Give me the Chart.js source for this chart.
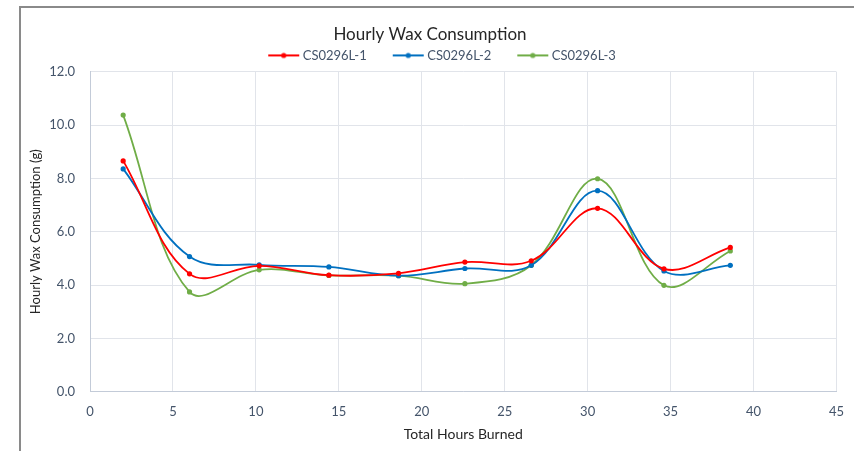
<!DOCTYPE html>
<html>
<head>
<meta charset="utf-8">
<script src="https://cdn.jsdelivr.net/npm/chart.js@4/dist/chart.umd.min.js"></script>
<style>
  html, body { margin: 0; padding: 0; background: #fff; overflow: hidden; }
  body { width: 854px; height: 451px; position: relative; }
  #frame { position: absolute; left: 19px; top: 6px; width: 1000px; height: 1000px; border: 2px solid #8a8a8a; box-sizing: border-box; }
  #wrap { position: absolute; left: 20px; top: 0px; width: 836px; height: 451px; }
</style>
</head>
<body>
<div id="frame"></div>
<div id="wrap"><canvas id="c"></canvas></div>
<script>
const hours = [2.0, 6.0, 10.2, 14.4, 18.6, 22.6, 26.6, 30.6, 34.6, 38.6];
const seriesNames = ['CS0296L-1', 'CS0296L-2', 'CS0296L-3'];
const cs1 = [8.66, 4.42, 4.72, 4.37, 4.44, 4.86, 4.91, 6.88, 4.61, 5.41];
const cs2 = [8.36, 5.07, 4.76, 4.68, 4.35, 4.62, 4.74, 7.54, 4.53, 4.74];
const cs3 = [10.38, 3.74, 4.57, 4.36, 4.35, 4.05, 4.74, 7.99, 3.99, 5.28];
const colors = ['#ff0000', '#0070c0', '#70ad47'];
const FONT = 'Lato, "Open Sans", sans-serif';

function legendMarker(color) {
  const c = document.createElement('canvas');
  c.width = 60; c.height = 8;
  const g = c.getContext('2d');
  g.strokeStyle = color; g.lineWidth = 2;
  g.beginPath(); g.moveTo(28, 4); g.lineTo(59, 4); g.stroke();
  g.fillStyle = color;
  g.beginPath(); g.arc(43.5, 4, 2.6, 0, Math.PI * 2); g.fill();
  return c;
}

const values = [cs1, cs2, cs3];
const datasets = values.map((vals, i) => ({
  label: seriesNames[i],
  data: hours.map((h, j) => ({ x: h, y: vals[j] })),
  showLine: true,
  borderColor: colors[i],
  backgroundColor: colors[i],
  borderWidth: 1.8,
  pointRadius: 2.6,
  pointBorderWidth: 0,
  pointStyle: 'circle',
  tension: 0.37,
  legendImg: legendMarker(colors[i])
}));

new Chart(document.getElementById('c'), {
  type: 'scatter',
  data: { datasets },
  options: {
    responsive: true,
    maintainAspectRatio: false,
    animation: false,
    layout: { padding: { left: 0, right: 16, top: 0, bottom: 8 } },
    plugins: {
      tooltip: { enabled: false },
      title: {
        display: true,
        text: 'Hourly Wax Consumption',
        color: '#262626',
        font: { family: FONT, size: 17, weight: 'normal' },
        padding: { top: 24, bottom: 2.5 }
      },
      legend: {
        display: true,
        labels: {
          color: '#44546a',
          font: { family: FONT, size: 13 },
          usePointStyle: true,
          pointStyleWidth: 52,
          padding: 2,
          generateLabels: (chart) => chart.data.datasets.map((ds, i) => ({
            text: ds.label,
            fillStyle: ds.borderColor,
            strokeStyle: ds.borderColor,
            fontColor: '#44546a',
            lineWidth: 0,
            pointStyle: ds.legendImg,
            datasetIndex: i,
            hidden: false
          }))
        }
      }
    },
    scales: {
      x: {
        type: 'linear',
        min: 0, max: 45,
        ticks: { stepSize: 5, color: '#44546a', font: { family: FONT, size: 13 }, padding: 12 },
        grid: { color: '#e1e4ea', lineWidth: 1, drawTicks: false },
        border: { color: '#c3cbd8', width: 1 },
        title: { display: true, text: 'Total Hours Burned', color: '#262626', font: { family: FONT, size: 14 }, padding: { top: -5, bottom: 0 } }
      },
      y: {
        min: 0, max: 12,
        ticks: { stepSize: 2, color: '#44546a', font: { family: FONT, size: 13 }, padding: 15, callback: v => v.toFixed(1) },
        grid: { color: '#e1e4ea', lineWidth: 1, drawTicks: false },
        border: { color: '#c3cbd8', width: 1 },
        title: { display: true, text: 'Hourly Wax Consumption (g)', color: '#262626', font: { family: FONT, size: 13 }, padding: { top: 8, bottom: 0 } },
        afterFit: (s) => { s.width = 70; }
      }
    }
  }
});
</script>
</body>
</html>
